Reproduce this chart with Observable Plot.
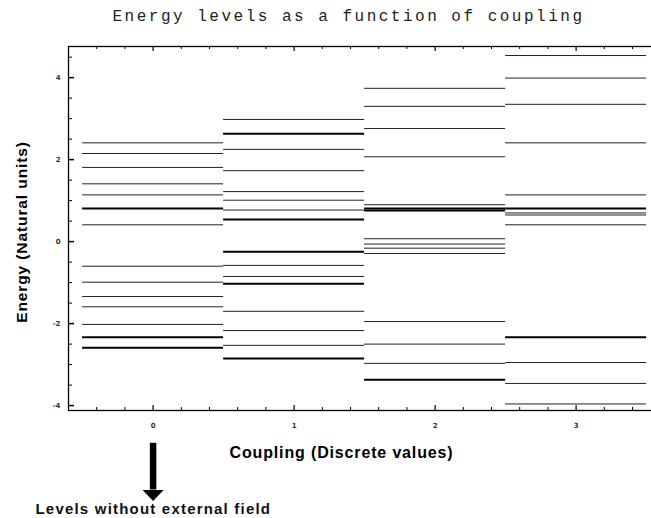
<!DOCTYPE html>
<html>
<head>
<meta charset="utf-8">
<script src="https://cdn.jsdelivr.net/npm/d3@7"></script>
<script src="https://cdn.jsdelivr.net/npm/@observablehq/plot@0.6"></script>
<style>
  body { margin: 0; background: #fff; }
  #chart svg { display: block; overflow: hidden; }
</style>
</head>
<body>
<div id="chart"></div>
<script>
// Energy levels (natural units) for each discrete coupling value
const couplings = [0, 1, 2, 3];
const levels0 = [2.41, 2.15, 1.81, 1.41, 1.14, 0.81, 0.41, -0.60, -0.99, -1.34, -1.59, -2.02, -2.33, -2.59];
const levels1 = [2.98, 2.63, 2.25, 1.73, 1.22, 1.01, 0.77, 0.54, -0.25, -0.58, -0.85, -1.03, -1.70, -2.17, -2.53, -2.85];
const levels2 = [3.74, 3.30, 2.76, 2.07, 0.90, 0.81, 0.76, 0.07, -0.06, -0.16, -0.29, -1.95, -2.50, -2.97, -3.37];
const levels3 = [4.54, 3.99, 3.35, 2.41, 1.14, 0.81, 0.70, 0.65, 0.41, -2.33, -2.95, -3.46, -3.96];

// Degenerate levels, drawn heavier
const degenerate0 = [0.81, -2.33, -2.59];
const degenerate1 = [2.63, 0.54, -0.25, -1.03, -2.85];
const degenerate2 = [0.81, 0.76, -3.37];
const degenerate3 = [0.81, -2.33];

const xTickLabels = [0, 1, 2, 3];
const yTickLabels = [-4, -2, 0, 2, 4];

const titleText = "Energy levels as a function of coupling";
const yLabelText = "Energy (Natural units)";
const xLabelText = "Coupling (Discrete values)";
const noteText = "Levels without external field";

const levelSets = [levels0, levels1, levels2, levels3];
const degenerateSets = [degenerate0, degenerate1, degenerate2, degenerate3];

const rows = couplings.flatMap((c, i) =>
  levelSets[i].map(e => ({coupling: c, energy: e, degenerate: degenerateSets[i].includes(e)}))
);

// Minor tick positions of the frame
const isInt = v => Math.abs(v - Math.round(v)) < 1e-6;
const xMinor = d3.range(-3, 18).map(i => +(i * 0.2).toFixed(2)).filter(v => !isInt(v));
const yMinor = d3.range(-8, 10).map(i => i * 0.5).filter(v => !yTickLabels.includes(v));

const W = 651, H = 518;
const mL = 68, mR = -3, mT = 46, mB = 108;
const frameW = W - mL - mR, frameH = H - mT - mB;

// Arrow below the axis pointing at coupling 0 (in energy units below the frame)
const arrowTop = -4.92, arrowBase = -6.06;

// Flat, downward-pointing arrowhead
const arrowheadSymbol = {
  draw(ctx, size) {
    const s = Math.sqrt(size / Math.PI) / 6;
    ctx.moveTo(-10.5 * s, 0);
    ctx.lineTo(10.5 * s, 0);
    ctx.lineTo(0, 11 * s);
    ctx.closePath();
  }
};

const sans = "Liberation Sans, Arial, sans-serif";

const chart = Plot.plot({
  width: W,
  height: H,
  marginLeft: mL,
  marginRight: mR,
  marginTop: mT,
  marginBottom: mB,
  x: {domain: [-0.6, 3.556], axis: null},
  y: {domain: [-4.12, 4.76], axis: null},
  style: {background: "#fff", color: "#000"},
  marks: [
    // levels
    Plot.ruleY(rows.filter(d => !d.degenerate), {
      y: "energy", x1: d => d.coupling - 0.5, x2: d => d.coupling + 0.5,
      stroke: "#222", strokeWidth: 1
    }),
    Plot.ruleY(rows.filter(d => d.degenerate), {
      y: "energy", x1: d => d.coupling - 0.5, x2: d => d.coupling + 0.5,
      stroke: "#000", strokeWidth: 2
    }),
    // frame
    Plot.frame({stroke: "#000", strokeWidth: 1.3}),
    // inward ticks, bottom and top
    Plot.tickX(xMinor, {x: d => d, insetTop: frameH - 3, stroke: "#000"}),
    Plot.tickX(xTickLabels, {x: d => d, insetTop: frameH - 5, stroke: "#000", strokeWidth: 1.2}),
    Plot.tickX(xMinor, {x: d => d, insetBottom: frameH - 3, stroke: "#000"}),
    Plot.tickX(xTickLabels, {x: d => d, insetBottom: frameH - 5, stroke: "#000", strokeWidth: 1.2}),
    // inward ticks, left
    Plot.tickY(yMinor, {y: d => d, insetRight: frameW - 4, stroke: "#000"}),
    Plot.tickY(yTickLabels, {y: d => d, insetRight: frameW - 6, stroke: "#000", strokeWidth: 1.5}),
    // tick labels
    Plot.text(xTickLabels, {
      x: d => d, frameAnchor: "bottom", dy: 15, lineAnchor: "middle", text: d => String(d),
      fontSize: 7, fontWeight: "bold", fill: "#333", fontFamily: "DejaVu Sans"
    }),
    Plot.text(yTickLabels, {
      y: d => d, frameAnchor: "left", dx: -8, lineAnchor: "middle", text: d => String(d),
      textAnchor: "end", fontSize: 7, fontWeight: "bold", fill: "#333", fontFamily: "DejaVu Sans"
    }),
    // title and axis labels
    Plot.text([titleText], {
      frameAnchor: "top", dx: -13, dy: -30.5, lineAnchor: "middle", textAnchor: "middle", text: d => d,
      fontFamily: "Liberation Mono", fontSize: 16, fill: "#222"
    }),
    Plot.text([yLabelText], {
      frameAnchor: "left", dx: -46.5, dy: 3.5, rotate: -90, lineAnchor: "middle", textAnchor: "middle", text: d => d,
      fontFamily: sans, fontWeight: "bold", fontSize: 15.5, fill: "#000"
    }),
    Plot.text([xLabelText], {
      frameAnchor: "bottom", dx: -20, dy: 42, lineAnchor: "middle", textAnchor: "middle", text: d => d,
      fontFamily: sans, fontWeight: "bold", fontSize: 16, fill: "#000"
    }),
    // annotation arrow
    Plot.ruleX([0], {x: d => d, y1: arrowTop, y2: arrowBase, stroke: "#000", strokeWidth: 6.5}),
    Plot.dot([0], {x: d => d, y: arrowBase, symbol: arrowheadSymbol, r: 6, fill: "#000", stroke: "none"}),
    Plot.text([noteText], {
      frameAnchor: "bottom-left", dx: -33, dy: 99, lineAnchor: "middle", textAnchor: "start", text: d => d,
      fontFamily: sans, fontWeight: "bold", fontSize: 15, fill: "#111"
    })
  ]
});

// Letter spacing for the wide title and label lettering
const spacing = new Map([[titleText, 2.5], [yLabelText, 0.9], [xLabelText, 0.85], [noteText, 1.2]]);
d3.select(chart).selectAll("text").each(function() {
  const t = this.textContent;
  if (spacing.has(t)) this.style.letterSpacing = spacing.get(t) + "px";
});

document.getElementById("chart").appendChild(chart);
</script>
</body>
</html>
